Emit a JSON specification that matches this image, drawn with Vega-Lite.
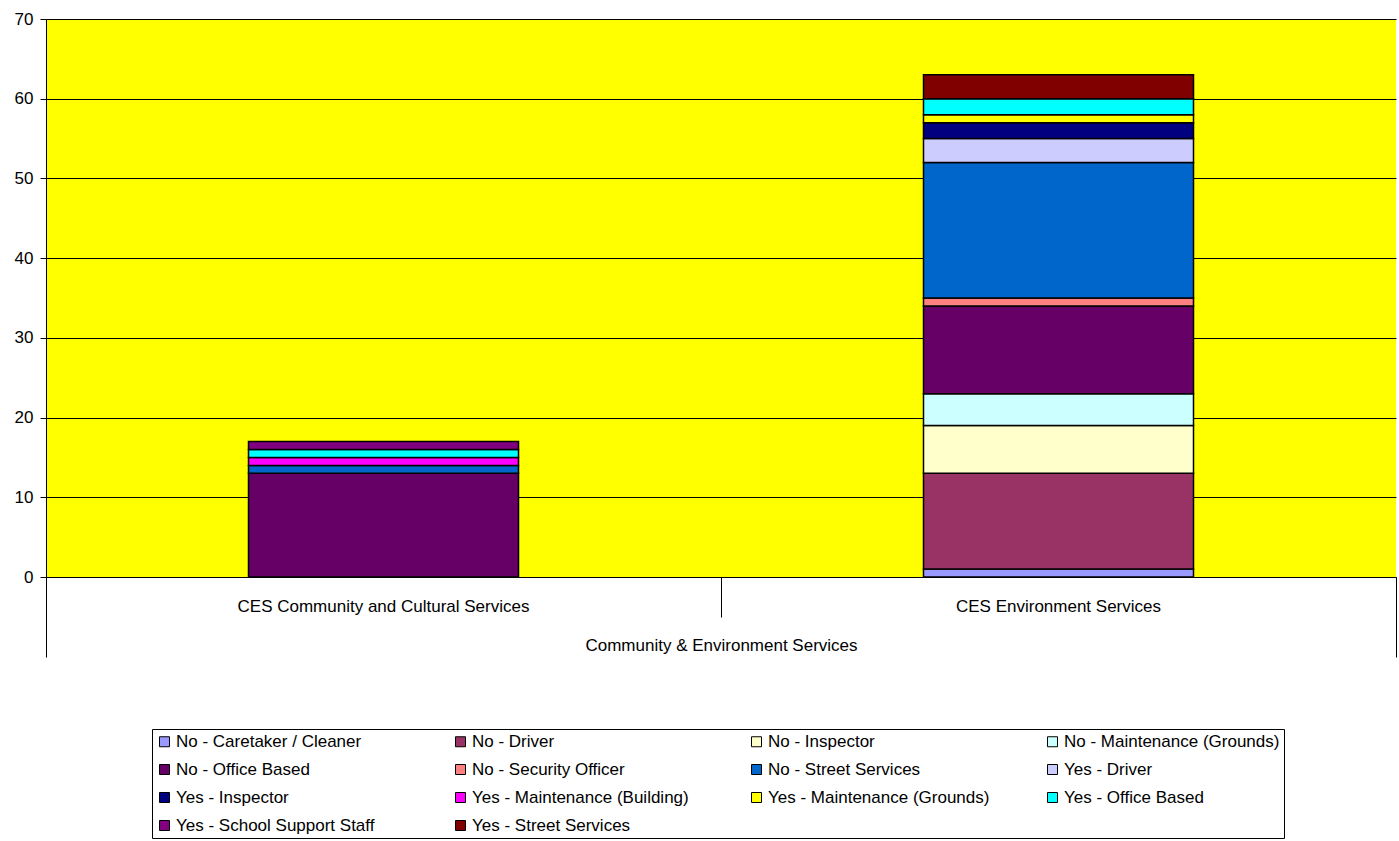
{
  "$schema": "https://vega.github.io/schema/vega-lite/v6.json",
  "autosize": "none",
  "width": 1350,
  "height": 558,
  "padding": {"left": 46, "top": 19, "right": 3, "bottom": 264},
  "background": "white",
  "data": {
    "values": [
      {"unit": "CES Community and Cultural Services", "type": "No - Office Based", "count": 13},
      {"unit": "CES Community and Cultural Services", "type": "No - Street Services", "count": 1},
      {"unit": "CES Community and Cultural Services", "type": "Yes - Maintenance (Building)", "count": 1},
      {"unit": "CES Community and Cultural Services", "type": "Yes - Office Based", "count": 1},
      {"unit": "CES Community and Cultural Services", "type": "Yes - School Support Staff", "count": 1},
      {"unit": "CES Environment Services", "type": "No - Caretaker / Cleaner", "count": 1},
      {"unit": "CES Environment Services", "type": "No - Driver", "count": 12},
      {"unit": "CES Environment Services", "type": "No - Inspector", "count": 6},
      {"unit": "CES Environment Services", "type": "No - Maintenance (Grounds)", "count": 4},
      {"unit": "CES Environment Services", "type": "No - Office Based", "count": 11},
      {"unit": "CES Environment Services", "type": "No - Security Officer", "count": 1},
      {"unit": "CES Environment Services", "type": "No - Street Services", "count": 17},
      {"unit": "CES Environment Services", "type": "Yes - Driver", "count": 3},
      {"unit": "CES Environment Services", "type": "Yes - Inspector", "count": 2},
      {"unit": "CES Environment Services", "type": "Yes - Maintenance (Grounds)", "count": 1},
      {"unit": "CES Environment Services", "type": "Yes - Office Based", "count": 2},
      {"unit": "CES Environment Services", "type": "Yes - Street Services", "count": 3}
    ]
  },
  "encoding": {
    "y": {
      "field": "count",
      "type": "quantitative",
      "stack": "zero",
      "scale": {"domain": [0, 70], "nice": false},
      "axis": {
        "title": null,
        "values": [0, 10, 20, 30, 40, 50, 60, 70],
        "labelFont": "Liberation Sans",
        "labelFontSize": 17,
        "labelColor": "black",
        "labelPadding": 7,
        "tickColor": "black",
        "tickSize": 6,
        "domainColor": "black",
        "gridColor": "black",
        "gridWidth": 1,
        "gridOpacity": 1
      }
    },
    "order": {"field": "type", "sort": "ascending"}
  },
  "layer": [
    {
      "mark": {"type": "bar", "stroke": "black", "strokeWidth": 1.5, "width": {"band": 0.4}},
      "encoding": {
        "x": {
          "field": "unit",
          "type": "nominal",
          "scale": {"paddingInner": 0, "paddingOuter": 0},
          "axis": {
            "title": null,
            "orient": "bottom",
            "labelAngle": 0,
            "labelFont": "Liberation Sans",
            "labelFontSize": 17,
            "labelColor": "black",
            "labelPadding": 29,
            "labelBaseline": "middle",
            "labelLimit": 600,
            "ticks": false,
            "domainColor": "black",
            "domainWidth": 1
          }
        },
        "color": {
          "field": "type",
          "type": "nominal",
          "scale": {
            "domain": ["No - Caretaker / Cleaner", "No - Driver", "No - Inspector", "No - Maintenance (Grounds)", "No - Office Based", "No - Security Officer", "No - Street Services", "Yes - Driver", "Yes - Inspector", "Yes - Maintenance (Building)", "Yes - Maintenance (Grounds)", "Yes - Office Based", "Yes - School Support Staff", "Yes - Street Services"],
            "range": ["#9999FF", "#993366", "#FFFFCC", "#CCFFFF", "#660066", "#FF8080", "#0066CC", "#CCCCFF", "#000080", "#FF00FF", "#FFFF00", "#00FFFF", "#800080", "#800000"]
          },
          "legend": {
            "title": null,
            "orient": "none",
            "direction": "horizontal",
            "legendX": 106,
            "legendY": 710,
            "columns": 4,
            "gridAlign": "all",
            "columnPadding": 54,
            "rowPadding": 10,
            "padding": 4,
            "strokeColor": "black",
            "fillColor": "white",
            "symbolType": "square",
            "symbolSize": 100,
            "symbolStrokeColor": "black",
            "symbolStrokeWidth": 1,
            "symbolOpacity": 1,
            "labelFont": "Liberation Sans",
            "labelFontSize": 17,
            "labelColor": "black",
            "labelOffset": 3,
            "labelLimit": 400
          }
        }
      }
    },
    {
      "mark": {"type": "bar", "opacity": 0, "width": {"band": 0.4}},
      "encoding": {
        "x": {
          "field": "unit",
          "type": "nominal",
          "axis": {
            "title": "Community & Environment Services",
            "orient": "bottom",
            "titleFont": "Liberation Sans",
            "titleFontSize": 17,
            "titleFontWeight": "normal",
            "titleColor": "black",
            "titleY": 68,
            "titleBaseline": "middle",
            "labels": false,
            "domain": false,
            "tickBand": "extent",
            "tickColor": "black",
            "tickWidth": 1,
            "tickSize": {"condition": {"test": "datum.index === 0", "value": 40}, "value": 80}
          }
        }
      }
    }
  ],
  "resolve": {"axis": {"x": "independent"}},
  "config": {
    "view": {"fill": "#FFFF00", "stroke": null}
  }
}
